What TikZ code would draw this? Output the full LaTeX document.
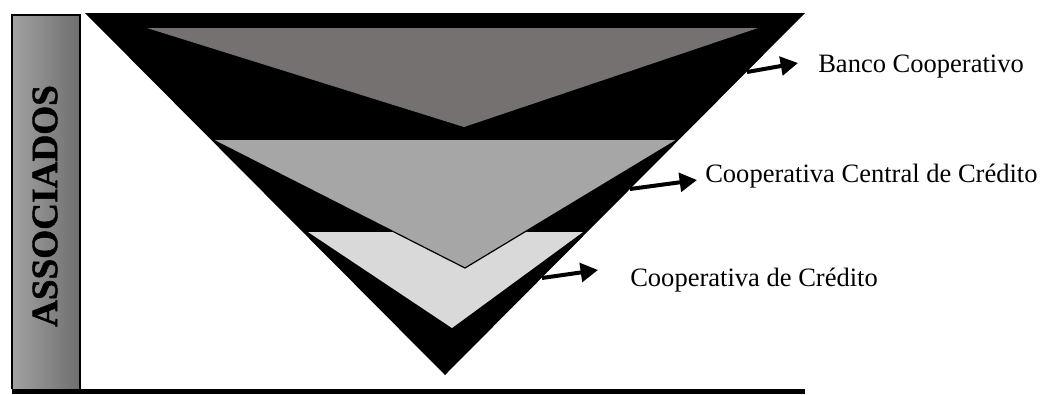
\documentclass[tikz,border=0pt]{standalone}
\usepackage{fontspec}
\setmainfont{Liberation Serif}
\usetikzlibrary{arrows.meta}
\definecolor{tierA}{HTML}{767171}
\definecolor{tierB}{HTML}{A6A6A6}
\definecolor{tierC}{HTML}{D9D9D9}
\definecolor{barL}{HTML}{A2A2A2}
\definecolor{barR}{HTML}{6E6E6E}
\begin{document}
\begin{tikzpicture}[x=0.75pt,y=-0.75pt,
  lbl/.style={anchor=base west, inner sep=0pt, font=\fontsize{19.9}{24}\selectfont},
  pointer/.style={line width=3pt, -{Triangle[length=13pt,width=14pt]}}]
\useasboundingbox (0,0) rectangle (1049,394);
% left bar
\shade[left color=barL, right color=barR] (12,15) rectangle (80,389);
\draw[line width=0.9pt] (12,389) -- (12,15) -- (80,15) -- (80,389);
\node[rotate=90, inner sep=0pt, font=\fontsize{27.9}{30}\selectfont\bfseries\addfontfeatures{FakeBold=1.2}] (assoc) at (45,206) {ASSOCIADOS};
% base line
\fill[black] (12,389) rectangle (805,394);
% pyramid
\fill[black] (85,13) -- (805,13) -- (445,375) -- cycle;
\fill[tierA] (147,28) -- (758,28) -- (464,127) -- cycle;
\fill[tierC] (308,232) -- (583,232) -- (452,328) -- cycle;
\fill[tierB] (213,140) -- (677,140) -- (465,268) -- cycle;
\draw[line width=0.9pt] (213,140) -- (465,268) -- (677,140);
% arrows and labels
\coordinate (a1s) at (747,72);
\coordinate (a1e) at (798,63);
\coordinate (a2s) at (630,189);
\coordinate (a2e) at (697,180);
\coordinate (a3s) at (542,278);
\coordinate (a3e) at (598,270);
\node[lbl] (l1) at (818,72) {Banco Cooperativo};
\node[lbl] (l2) at (705,182) {Cooperativa Central de Crédito};
\node[lbl] (l3) at (630,286) {Cooperativa de Crédito};
\draw[pointer] (a1s) -- (a1e);
\draw[pointer] (a2s) -- (a2e);
\draw[pointer] (a3s) -- (a3e);
\end{tikzpicture}
\end{document}
